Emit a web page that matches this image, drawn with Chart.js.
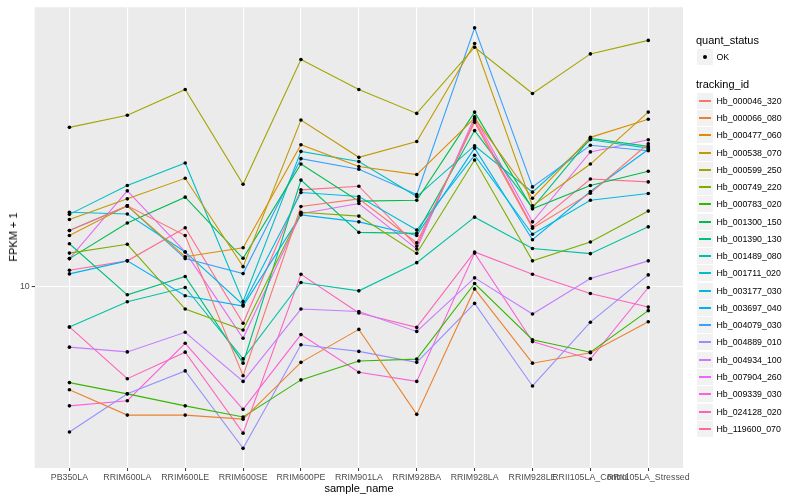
<!DOCTYPE html>
<html>
<head>
<meta charset="utf-8">
<script src="https://cdn.jsdelivr.net/npm/chart.js@4"></script>
<style>
  html, body { margin: 0; padding: 0; background: #fff; }
  #wrap { position: relative; width: 800px; height: 500px; font-family: "Liberation Sans", Arial, Helvetica, sans-serif; }
  #c { position: absolute; left: 0; top: 0; }
  .lg { position: absolute; color: #000; white-space: nowrap; }
  .ttl { font-size: 11px; }
  .lbl { font-size: 8.8px; }
  .key { position: absolute; width: 16px; height: 16px; background: #F2F2F2; }
  .ytitle { position: absolute; left: 13px; top: 236.6px; transform: translate(-50%, -50%) rotate(-90deg); font-size: 11px; color: #000; white-space: nowrap; }
  .xtitle { position: absolute; left: 359px; top: 488px; transform: translate(-50%, -50%); font-size: 11px; color: #000; white-space: nowrap; }
</style>
</head>
<body>
<div id="wrap">
  <canvas id="c" width="800" height="500"></canvas>
  <div class="ytitle">FPKM + 1</div>
  <div class="xtitle">sample_name</div>
  <div id="legend"></div>
</div>
<script>
// ---- data ----
const categories = ["PB350LA", "RRIM600LA", "RRIM600LE", "RRIM600SE", "RRIM600PE", "RRIM901LA",
  "RRIM928BA", "RRIM928LA", "RRIM928LE", "RRII105LA_Control", "RRII105LA_Stressed"];
const yTicks = [10];
const quantStatus = ["OK"];
const trackingIds = ["Hb_000046_320", "Hb_000066_080", "Hb_000477_060", "Hb_000538_070", "Hb_000599_250",
  "Hb_000749_220", "Hb_000783_020", "Hb_001300_150", "Hb_001390_130", "Hb_001489_080", "Hb_001711_020",
  "Hb_003177_030", "Hb_003697_040", "Hb_004079_030", "Hb_004889_010", "Hb_004934_100", "Hb_007904_260",
  "Hb_009339_030", "Hb_024128_020", "Hb_119600_070"];

const Hb_000046_320 = [13.78, 15.89, 13.39, 5.96, 15.83, 16.55, 12.84, 25.74, 13.96, 17.1, 22.75];
const Hb_000066_080 = [5.50, 4.75, 4.75, 4.64, 6.44, 7.79, 4.77, 9.84, 6.41, 6.81, 8.14];
const Hb_000477_060 = [13.39, 15.89, 11.85, 12.48, 22.62, 19.94, 19.04, 26.36, 16.61, 23.6, 26.2];
const Hb_000538_070 = [14.69, 16.55, 18.63, 11.19, 26.08, 21.03, 23.05, 40.57, 15.89, 20.23, 27.3];
const Hb_000599_250 = [25.0, 26.8, 31.1, 18.0, 37.0, 31.1, 27.1, 39.7, 30.4, 38.2, 41.3];
const Hb_000749_220 = [12.1, 12.73, 8.76, 7.76, 15.32, 14.98, 12.09, 20.7, 11.57, 12.9, 15.42];
const Hb_000783_020 = [5.73, 5.37, 5.01, 4.70, 5.82, 6.49, 6.56, 10.15, 7.34, 6.83, 8.68];
const Hb_001300_150 = [11.72, 14.39, 16.71, 11.74, 20.23, 16.33, 16.42, 27.3, 15.62, 17.87, 19.4];
const Hb_001390_130 = [12.77, 9.51, 10.57, 6.41, 18.44, 13.64, 13.56, 24.54, 15.71, 23.45, 22.4];
const Hb_001489_080 = [7.90, 9.14, 9.92, 6.57, 10.21, 9.73, 11.45, 14.89, 12.42, 12.06, 14.08];
const Hb_001711_020 = [15.13, 17.87, 20.35, 9.15, 21.76, 20.52, 16.77, 22.49, 17.2, 23.27, 22.18];
const Hb_003177_030 = [15.32, 15.16, 12.18, 8.98, 17.17, 16.77, 13.82, 21.28, 13.49, 16.42, 17.07];
const Hb_003697_040 = [10.73, 11.57, 9.46, 8.91, 15.09, 14.49, 13.4, 22.18, 13.07, 17.27, 22.0];
const Hb_004079_030 = [13.78, 15.89, 11.72, 10.75, 20.87, 19.63, 16.97, 44.4, 17.73, 22.55, 21.84];
const Hb_004889_010 = [4.31, 5.37, 6.13, 3.92, 7.13, 6.86, 6.44, 9.05, 5.62, 8.12, 10.67];
const Hb_004934_100 = [7.03, 6.84, 7.66, 5.77, 8.76, 8.64, 7.70, 10.49, 8.51, 10.45, 11.57];
const Hb_007904_260 = [11.72, 17.33, 12.18, 7.40, 15.19, 16.11, 12.39, 26.56, 14.49, 21.7, 23.27];
const Hb_009339_030 = [5.01, 5.16, 7.19, 4.91, 7.56, 6.08, 5.77, 12.1, 7.26, 6.56, 9.92];
const Hb_024128_020 = [7.90, 5.86, 6.83, 4.28, 10.71, 8.56, 7.88, 12.18, 10.71, 9.58, 8.86];
const Hb_119600_070 = [10.96, 11.57, 14.0, 8.07, 17.43, 17.8, 12.6, 26.1, 14.08, 18.55, 18.25];

const seriesValues = [Hb_000046_320, Hb_000066_080, Hb_000477_060, Hb_000538_070, Hb_000599_250,
  Hb_000749_220, Hb_000783_020, Hb_001300_150, Hb_001390_130, Hb_001489_080, Hb_001711_020,
  Hb_003177_030, Hb_003697_040, Hb_004079_030, Hb_004889_010, Hb_004934_100, Hb_007904_260,
  Hb_009339_030, Hb_024128_020, Hb_119600_070];

// ---- styles ----
const colors = ["#F8766D", "#EA8331", "#D89000", "#C09B00", "#A3A500", "#7CAE00", "#39B600", "#00BB4E",
  "#00BF7D", "#00C1A3", "#00BFC4", "#00BAE0", "#00B0F6", "#35A2FF", "#9590FF", "#C77CFF", "#E76BF3",
  "#FA62DB", "#FF62BC", "#FF6C91"];
const FONT = '"Liberation Sans", Arial, Helvetica, sans-serif';

const datasets = seriesValues.map((vals, si) => ({
  label: trackingIds[si],
  data: vals.map((v, i) => ({ x: i, y: v })),
  borderColor: colors[si],
  backgroundColor: colors[si],
  borderWidth: 1.1,
  pointRadius: 0,
  pointHoverRadius: 0,
  tension: 0,
  fill: false
}));

const panelBg = {
  id: 'panelBg',
  beforeDraw(chart) {
    const { ctx, chartArea: a } = chart;
    ctx.save();
    ctx.fillStyle = '#EBEBEB';
    ctx.fillRect(a.left, a.top, a.right - a.left, a.bottom - a.top);
    ctx.restore();
  }
};

const pointsOnTop = {
  id: 'pointsOnTop',
  afterDatasetsDraw(chart) {
    const ctx = chart.ctx;
    ctx.save();
    ctx.fillStyle = '#000';
    chart.data.datasets.forEach((ds, di) => {
      const meta = chart.getDatasetMeta(di);
      meta.data.forEach(pt => {
        ctx.beginPath();
        ctx.arc(pt.x, pt.y, 1.8, 0, Math.PI * 2);
        ctx.fill();
      });
    });
    ctx.restore();
  }
};

new Chart(document.getElementById('c'), {
  type: 'line',
  data: { datasets },
  options: {
    responsive: false,
    animation: false,
    events: [],
    layout: { padding: { left: 0, right: 117, top: 5.3, bottom: 0 } },
    plugins: { legend: { display: false }, tooltip: { enabled: false } },
    scales: {
      x: {
        type: 'linear',
        min: -0.6,
        max: categories.length - 1 + 0.6,
        afterBuildTicks(axis) { axis.ticks = categories.map((c, i) => ({ value: i })); },
        afterFit(axis) { axis.height = 32; },
        ticks: {
          autoSkip: false, maxRotation: 0, minRotation: 0,
          color: '#4D4D4D', font: { family: FONT, size: 8.8 }, padding: 1,
          callback: (v) => categories[v]
        },
        grid: { color: '#FFFFFF', lineWidth: 1.1, tickColor: '#333333', tickLength: 3, tickWidth: 1 },
        border: { display: false }
      },
      y: {
        type: 'logarithmic',
        min: 3.5,
        max: 50,
        afterBuildTicks(axis) { axis.ticks = yTicks.map(v => ({ value: v })); },
        afterFit(axis) { axis.width = 34.7; },
        ticks: {
          color: '#4D4D4D', font: { family: FONT, size: 8.8 }, padding: 2,
          callback: (v) => String(v)
        },
        grid: { color: '#FFFFFF', lineWidth: 1.1, tickColor: '#333333', tickLength: 3, tickWidth: 1 },
        border: { display: false }
      }
    }
  },
  plugins: [panelBg, pointsOnTop]
});

// ---- legend (HTML) ----
const lg = document.getElementById('legend');
function addDiv(cls, left, top, text, extra) {
  const d = document.createElement('div');
  d.className = cls;
  d.style.left = left + 'px';
  d.style.top = top + 'px';
  if (text !== undefined) d.textContent = text;
  if (extra) Object.assign(d.style, extra);
  lg.appendChild(d);
  return d;
}
addDiv('lg ttl', 696, 34, 'quant_status');
const k0 = addDiv('key', 697, 49);
const dot = document.createElement('div');
Object.assign(dot.style, { position: 'absolute', left: '6px', top: '6px', width: '4px', height: '4px', borderRadius: '50%', background: '#000' });
k0.appendChild(dot);
addDiv('lg lbl', 716.5, 51, quantStatus[0], { lineHeight: '12px' });
addDiv('lg ttl', 696, 78, 'tracking_id');
trackingIds.forEach((id, i) => {
  const cy = 100.7 + 17.27 * i;
  const top = Math.round(cy - 8);
  const k = addDiv('key', 697, top);
  const ln = document.createElement('div');
  Object.assign(ln.style, { position: 'absolute', left: '2px', width: '12px', top: '7px', height: '1.5px', background: colors[i] });
  k.appendChild(ln);
  addDiv('lg lbl', 716.5, top + 2, id, { lineHeight: '12px' });
});
</script>
</body>
</html>
